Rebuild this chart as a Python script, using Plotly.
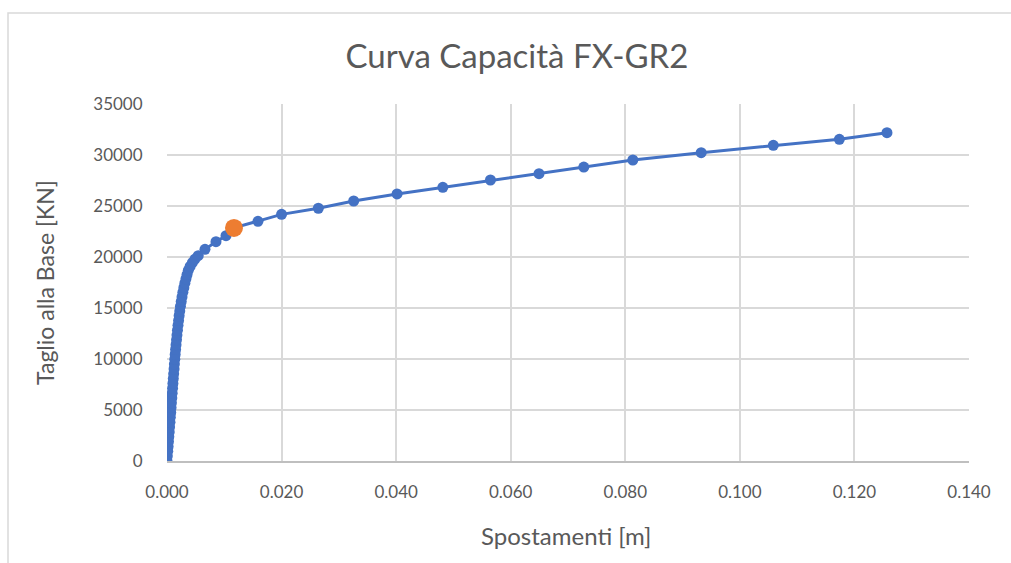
import plotly.graph_objects as go

# Capacity curve: top displacement [m] vs base shear [KN]
spostamenti = [
    0.00000, 0.00006, 0.00013, 0.00019, 0.00026, 0.00032, 0.00039, 0.00045,
    0.00052, 0.00058, 0.00065, 0.00071, 0.00077, 0.00084, 0.00090, 0.00097,
    0.00103, 0.00110, 0.00116, 0.00123, 0.00129, 0.00136, 0.00143, 0.00150,
    0.00158, 0.00166, 0.00174, 0.00183, 0.00192, 0.00202, 0.00212, 0.00223,
    0.00235, 0.00248, 0.00262, 0.00277, 0.00294, 0.00312, 0.00331, 0.00350,
    0.00372, 0.00403, 0.00443, 0.00488, 0.00545, 0.00663, 0.00855, 0.01030,
    0.01169, 0.01588, 0.02000, 0.02642, 0.03259, 0.04016, 0.04815, 0.05646,
    0.06494, 0.07276, 0.08132, 0.09325, 0.10584, 0.11737, 0.12568,
]
taglio = [
    0, 480, 950, 1420, 1900, 2380, 2850, 3330,
    3800, 4280, 4750, 5230, 5700, 6180, 6650, 7130,
    7600, 8080, 8550, 9030, 9500, 9980, 10450, 10930,
    11400, 11880, 12350, 12820, 13300, 13770, 14240, 14700,
    15170, 15630, 16090, 16540, 16990, 17430, 17860, 18280,
    18690, 19080, 19450, 19800, 20130, 20755, 21500, 22090,
    22850, 23500, 24180, 24780, 25490, 26180, 26830, 27550,
    28170, 28820, 29510, 30230, 30950, 31540, 32190,
]

# Highlighted point on the curve
punto_x = [0.01169]
punto_y = [22850]

x_ticks = [0.0, 0.02, 0.04, 0.06, 0.08, 0.10, 0.12, 0.14]
y_ticks = [0, 5000, 10000, 15000, 20000, 25000, 30000, 35000]

BLUE = "#4472C4"
ORANGE = "#ED7D31"
GRID = "#D9D9D9"
AXIS = "#BFBFBF"
TEXT = "#595959"
FONT = "Lato, 'Open Sans', sans-serif"

fig = go.Figure()
fig.add_trace(go.Scatter(
    x=spostamenti, y=taglio, mode="lines+markers",
    line=dict(color=BLUE, width=3),
    marker=dict(color=BLUE, size=11),
    showlegend=False,
))
fig.add_trace(go.Scatter(
    x=punto_x, y=punto_y, mode="markers",
    marker=dict(color=ORANGE, size=18),
    showlegend=False,
))

L, R, T, B = 167, 42, 104, 102
W, H = 1011, 563
pw, ph = W - L - R, H - T - B


def px(xp):
    return (xp - L) / pw


def py(yp):
    return (H - B - yp) / ph


fig.update_layout(
    width=W, height=H,
    margin=dict(l=L, r=R, t=T, b=B, pad=0),
    paper_bgcolor="white", plot_bgcolor="white",
    font=dict(family=FONT, color=TEXT, size=17),
    title=dict(
        text="Curva Capacità FX-GR2",
        x=517 / W, xref="container", xanchor="center",
        y=1 - 56 / H, yref="container", yanchor="middle",
        font=dict(family=FONT, size=33, color=TEXT),
    ),
    xaxis=dict(
        range=[0, 0.14], tickvals=x_ticks, tickformat=".3f",
        showgrid=True, gridcolor=GRID, gridwidth=2,
        zeroline=False, showline=True, linecolor=AXIS, linewidth=2,
        ticks="outside", ticklen=15, tickcolor="rgba(0,0,0,0)",
        tickfont=dict(family=FONT, size=17, color=TEXT),
        fixedrange=True,
    ),
    yaxis=dict(
        range=[0, 35000], tickvals=y_ticks, tickformat="d",
        showgrid=True, gridcolor=GRID, gridwidth=2,
        zeroline=False, showline=False,
        ticks="outside", ticklen=20, tickcolor="rgba(0,0,0,0)",
        tickfont=dict(family=FONT, size=17, color=TEXT),
        fixedrange=True,
    ),
    annotations=[
        dict(text="Spostamenti [m]", xref="paper", yref="paper",
             x=px(566), y=py(535), xanchor="center", yanchor="middle",
             showarrow=False, font=dict(family=FONT, size=24, color=TEXT)),
        dict(text="Taglio alla Base [KN]", xref="paper", yref="paper",
             x=px(45), y=py(283), xanchor="center", yanchor="middle",
             textangle=-90, showarrow=False,
             font=dict(family=FONT, size=23, color=TEXT)),
    ],
    shapes=[
        dict(type="rect", xref="paper", yref="paper",
             x0=px(8), x1=px(1016), y0=py(568), y1=py(13),
             line=dict(color=GRID, width=1.5), fillcolor="rgba(0,0,0,0)",
             layer="below"),
    ],
)

fig.write_html("out.html")
